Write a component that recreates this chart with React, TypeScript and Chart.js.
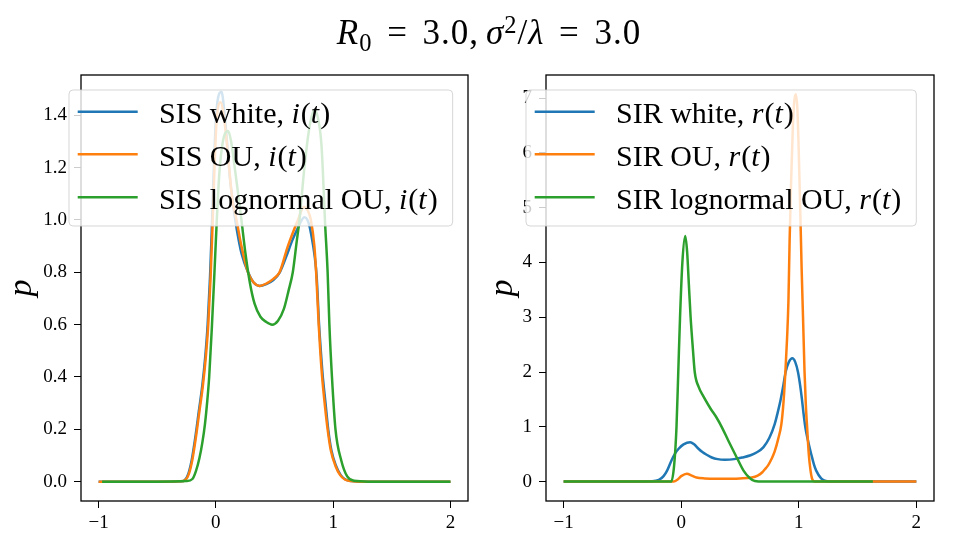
import React, { useEffect, useRef } from "react";
import { Chart, registerables } from "chart.js";

Chart.register(...registerables);

// ---------- data ----------
const xTicks = [-1, 0, 1, 2];
const sisYTicks = [0, 0.2, 0.4, 0.6, 0.8, 1.0, 1.2, 1.4];
const sirYTicks = [0, 1, 2, 3, 4, 5, 6, 7];

const sisLabels = ["SIS white, i(t)", "SIS OU, i(t)", "SIS lognormal OU, i(t)"];
const sirLabels = ["SIR white, r(t)", "SIR OU, r(t)", "SIR lognormal OU, r(t)"];

const sisWhiteX = [-1, -0.5, -0.3, -0.265, -0.235, -0.205, -0.175, -0.145, -0.115, -0.09, -0.07, -0.05, -0.035, -0.02, 0.0, 0.02, 0.048, 0.075, 0.1, 0.12, 0.15, 0.18, 0.22, 0.275, 0.32, 0.373, 0.43, 0.49, 0.545, 0.6, 0.65, 0.7, 0.755, 0.79, 0.815, 0.843, 0.86, 0.88, 0.895, 0.91, 0.935, 0.958, 0.985, 1.025, 1.065, 1.105, 1.16, 1.26, 2];
const sisWhiteY = [0, 0, 0.001, 0.006, 0.03, 0.085, 0.17, 0.27, 0.37, 0.48, 0.6, 0.78, 0.96, 1.16, 1.38, 1.47, 1.49, 1.4, 1.27, 1.16, 1.05, 0.96, 0.87, 0.8, 0.762, 0.748, 0.755, 0.77, 0.8, 0.86, 0.92, 0.97, 1.01, 0.99, 0.94, 0.86, 0.78, 0.6, 0.5, 0.41, 0.3, 0.2, 0.12, 0.06, 0.025, 0.008, 0.002, 0, 0];

const sisOuX = [-1, -0.5, -0.3, -0.26, -0.23, -0.2, -0.17, -0.14, -0.11, -0.085, -0.065, -0.045, -0.03, -0.015, 0.005, 0.04, 0.075, 0.113, 0.14, 0.176, 0.218, 0.274, 0.32, 0.373, 0.43, 0.49, 0.543, 0.614, 0.7, 0.75, 0.785, 0.81, 0.84, 0.855, 0.877, 0.89, 0.906, 0.93, 0.953, 0.98, 1.02, 1.06, 1.1, 1.15, 1.25, 2];
const sisOuY = [0, 0, 0.001, 0.006, 0.03, 0.085, 0.17, 0.27, 0.37, 0.48, 0.6, 0.78, 0.96, 1.16, 1.37, 1.45, 1.37, 1.2, 1.08, 1.0, 0.9, 0.8, 0.762, 0.748, 0.757, 0.775, 0.8, 0.9, 1.0, 1.05, 1.035, 1.0, 0.9, 0.8, 0.6, 0.5, 0.4, 0.29, 0.2, 0.12, 0.06, 0.025, 0.008, 0.002, 0, 0];

const sisLogX = [-0.97, -0.5, -0.25, -0.2, -0.17, -0.14, -0.115, -0.093, -0.075, -0.057, -0.033, -0.012, 0.008, 0.03, 0.06, 0.105, 0.13, 0.161, 0.19, 0.218, 0.25, 0.29, 0.33, 0.38, 0.43, 0.48, 0.53, 0.58, 0.62, 0.656, 0.69, 0.713, 0.755, 0.8, 0.84, 0.875, 0.9, 0.911, 0.93, 0.953, 0.968, 0.99, 1.02, 1.07, 1.12, 1.18, 1.3, 2];
const sisLogY = [0, 0, 0.002, 0.01, 0.04, 0.09, 0.15, 0.22, 0.3, 0.4, 0.6, 0.8, 1.0, 1.18, 1.3, 1.34, 1.3, 1.2, 1.1, 1.0, 0.88, 0.76, 0.68, 0.63, 0.61, 0.6, 0.615, 0.66, 0.73, 0.8, 0.92, 1.0, 1.2, 1.36, 1.42, 1.38, 1.29, 1.2, 1.0, 0.8, 0.6, 0.4, 0.2, 0.08, 0.02, 0.003, 0, 0];

const sirWhiteX = [-1, -0.4, -0.25, -0.19, -0.15, -0.12, -0.08, -0.05, -0.022, 0.02, 0.076, 0.11, 0.147, 0.18, 0.217, 0.26, 0.31, 0.37, 0.45, 0.52, 0.59, 0.64, 0.7, 0.75, 0.795, 0.825, 0.846, 0.868, 0.888, 0.915, 0.945, 0.97, 0.993, 1.01, 1.027, 1.04, 1.055, 1.08, 1.106, 1.128, 1.148, 1.19, 1.23, 1.3, 2];
const sirWhiteY = [0, 0, 0.005, 0.03, 0.1, 0.2, 0.4, 0.52, 0.6, 0.68, 0.72, 0.68, 0.6, 0.54, 0.49, 0.44, 0.41, 0.4, 0.41, 0.44, 0.48, 0.53, 0.63, 0.8, 1.05, 1.3, 1.5, 1.75, 2.0, 2.18, 2.25, 2.18, 2.0, 1.78, 1.5, 1.25, 1.0, 0.73, 0.5, 0.32, 0.2, 0.06, 0.01, 0, 0];

const sirOuX = [-1, -0.2, -0.064, -0.03, 0.0, 0.048, 0.09, 0.13, 0.2, 0.3, 0.4, 0.5, 0.6, 0.65, 0.69, 0.71, 0.74, 0.77, 0.795, 0.825, 0.852, 0.87, 0.886, 0.9, 0.912, 0.922, 0.935, 0.95, 0.962, 0.975, 0.988, 1.0, 1.012, 1.024, 1.036, 1.049, 1.06, 1.072, 1.085, 1.1, 1.112, 1.125, 1.15, 2];
const sirOuY = [0, 0, 0.002, 0.04, 0.1, 0.145, 0.11, 0.075, 0.058, 0.052, 0.053, 0.058, 0.075, 0.11, 0.17, 0.22, 0.3, 0.42, 0.55, 0.78, 1.05, 1.45, 2.0, 2.6, 3.3, 4.4, 5.5, 6.5, 6.95, 7.07, 6.8, 6.0, 5.0, 3.9, 3.0, 2.0, 1.4, 0.95, 0.5, 0.2, 0.06, 0.01, 0, 0];

const sirLogX = [-1, -0.2, -0.085, -0.06, -0.04, -0.025, -0.01, 0.01, 0.034, 0.05, 0.065, 0.08, 0.1, 0.115, 0.15, 0.19, 0.25, 0.3, 0.344, 0.4, 0.47, 0.53, 0.58, 0.626, 0.7, 1.63];
const sirLogY = [0, 0, 0, 0.3, 1.0, 2.0, 3.0, 4.0, 4.48, 4.2, 3.6, 3.0, 2.4, 2.0, 1.72, 1.55, 1.33, 1.17, 1.0, 0.75, 0.45, 0.2, 0.07, 0.01, 0, 0];

const COLORS = ["#1f77b4", "#ff7f0e", "#2ca02c"];
const SERIF = '"Liberation Serif", "Times New Roman", serif';

// ---------- helpers ----------
function pts(xs: number[], ys: number[]) {
  return xs.map((x, i) => ({ x, y: ys[i] }));
}

function fmtX(v: number) {
  return v < 0 ? "\u2212" + Math.abs(v) : String(v);
}

function splitLabel(label: string) {
  const idx = label.lastIndexOf(", ");
  return { prefix: label.slice(0, idx + 2), math: label.slice(idx + 2) };
}

function drawRich(ctx: CanvasRenderingContext2D, label: string, x: number, y: number, size: number, draw: boolean) {
  const { prefix, math } = splitLabel(label);
  let cx = x;
  ctx.font = `${size}px ${SERIF}`;
  if (draw) ctx.fillText(prefix, cx, y);
  cx += ctx.measureText(prefix).width;
  for (const ch of math) {
    const it = /[a-z]/.test(ch);
    ctx.font = `${it ? "italic " : ""}${size}px ${SERIF}`;
    if (draw) ctx.fillText(ch, cx, y);
    cx += ctx.measureText(ch).width + (it ? 1 : 0);
  }
  return cx - x;
}

const framePlugin = {
  id: "frame",
  afterDatasetsDraw(chart: any) {
    const { ctx, chartArea: a } = chart;
    ctx.save();
    ctx.strokeStyle = "#000";
    ctx.lineWidth = 1.3;
    ctx.strokeRect(a.left, a.top, a.right - a.left, a.bottom - a.top);
    ctx.restore();
  },
};

function makeLegendPlugin(labels: string[], offsetX: number) {
  return {
    id: "innerLegend",
    afterDraw(chart: any) {
      const { ctx, chartArea: a } = chart;
      const size = 30;
      const left = a.left + offsetX;
      const top = a.top + 15;
      const textX = left + 90;
      ctx.save();
      let maxW = 0;
      labels.forEach((l) => {
        maxW = Math.max(maxW, drawRich(ctx, l, 0, 0, size, false));
      });
      const w = 90 + maxW + 15;
      const h = 136;
      const r = 4;
      ctx.beginPath();
      ctx.moveTo(left + r, top);
      ctx.lineTo(left + w - r, top);
      ctx.arcTo(left + w, top, left + w, top + r, r);
      ctx.lineTo(left + w, top + h - r);
      ctx.arcTo(left + w, top + h, left + w - r, top + h, r);
      ctx.lineTo(left + r, top + h);
      ctx.arcTo(left, top + h, left, top + h - r, r);
      ctx.lineTo(left, top + r);
      ctx.arcTo(left, top, left + r, top, r);
      ctx.closePath();
      ctx.fillStyle = "rgba(255,255,255,0.8)";
      ctx.fill();
      ctx.strokeStyle = "rgba(204,204,204,0.8)";
      ctx.lineWidth = 1;
      ctx.stroke();
      const rows = [21.7, 64.3, 107.3];
      labels.forEach((l, i) => {
        const ly = top + rows[i];
        ctx.strokeStyle = COLORS[i];
        ctx.lineWidth = 2.5;
        ctx.beginPath();
        ctx.moveTo(left + 8.7, ly);
        ctx.lineTo(left + 68.7, ly);
        ctx.stroke();
        ctx.fillStyle = "#000";
        ctx.textBaseline = "alphabetic";
        ctx.textAlign = "left";
        drawRich(ctx, l, textX, ly + 11.5, size, true);
      });
      ctx.restore();
    },
  };
}

interface PanelProps {
  series: { x: number[]; y: number[] }[];
  labels: string[];
  yMin: number;
  yMax: number;
  yTicks: number[];
  yFmt: (v: number) => string;
  axisWidth: number;
  padRight: number;
  legendOffset: number;
}

function Panel(props: PanelProps) {
  const ref = useRef<HTMLCanvasElement>(null);
  useEffect(() => {
    if (!ref.current) return;
    const tickFont = { family: SERIF, size: 19 };
    const chart = new Chart(ref.current, {
      type: "line",
      data: {
        datasets: props.series.map((s, i) => ({
          label: props.labels[i],
          data: pts(s.x, s.y),
          borderColor: COLORS[i],
          backgroundColor: COLORS[i],
          borderWidth: 2.5,
          pointRadius: 0,
          cubicInterpolationMode: "monotone",
          fill: false,
          order: 3 - i,
        })),
      },
      options: {
        animation: false,
        responsive: false,
        events: [],
        layout: { padding: { left: 0, right: props.padRight, top: 75, bottom: 0 } },
        plugins: {
          legend: { display: false },
          tooltip: { enabled: false },
          title: { display: false },
        },
        scales: {
          x: {
            type: "linear",
            min: -1.15,
            max: 2.15,
            afterBuildTicks: (s: any) => {
              s.ticks = xTicks.map((v) => ({ value: v }));
            },
            afterFit: (s: any) => {
              s.height = 49;
            },
            grid: { drawOnChartArea: false, drawTicks: true, tickLength: 7, color: "#000", lineWidth: 1 },
            border: { display: false },
            ticks: {
              font: tickFont,
              color: "#000",
              padding: 4,
              maxRotation: 0,
              autoSkip: false,
              callback: (v: any) => fmtX(Number(v)),
            },
          },
          y: {
            type: "linear",
            min: props.yMin,
            max: props.yMax,
            afterBuildTicks: (s: any) => {
              s.ticks = props.yTicks.map((v) => ({ value: v }));
            },
            afterFit: (s: any) => {
              s.width = props.axisWidth;
            },
            grid: { drawOnChartArea: false, drawTicks: true, tickLength: 7, color: "#000", lineWidth: 1 },
            border: { display: false },
            ticks: {
              font: tickFont,
              color: "#000",
              padding: 7,
              autoSkip: false,
              callback: (v: any) => props.yFmt(Number(v)),
            },
            title: {
              display: true,
              text: "p",
              color: "#000",
              font: { family: SERIF, style: "italic", size: 34 },
              padding: { top: 2, bottom: 0 },
            },
          },
        },
      } as any,
      plugins: [framePlugin, makeLegendPlugin(props.labels, props.legendOffset)],
    });
    return () => chart.destroy();
  }, []);
  return <canvas ref={ref} width={481} height={550} style={{ display: "block", width: 481, height: 550 }} />;
}

export default function App() {
  const mathStyle: React.CSSProperties = { fontStyle: "italic" };
  const sub: React.CSSProperties = { fontSize: "70%", position: "relative", top: "0.3em" };
  const sup: React.CSSProperties = { fontSize: "70%", position: "relative", top: "-0.45em" };
  const rel: React.CSSProperties = { margin: "0 0.42em" };
  return (
    <div style={{ position: "absolute", left: 0, top: 0, width: 962, height: 550, background: "#fff", overflow: "hidden" }}>
      <div style={{ position: "absolute", left: 0, top: 0, display: "flex" }}>
        <Panel
          series={[
            { x: sisWhiteX, y: sisWhiteY },
            { x: sisOuX, y: sisOuY },
            { x: sisLogX, y: sisLogY },
          ]}
          labels={sisLabels}
          yMin={-0.074}
          yMax={1.554}
          yTicks={sisYTicks}
          yFmt={(v) => v.toFixed(1)}
          axisWidth={81}
          padRight={13}
          legendOffset={-12}
        />
        <Panel
          series={[
            { x: sirWhiteX, y: sirWhiteY },
            { x: sirOuX, y: sirOuY },
            { x: sirLogX, y: sirLogY },
          ]}
          labels={sirLabels}
          yMin={-0.354}
          yMax={7.42}
          yTicks={sirYTicks}
          yFmt={(v) => String(Math.round(v))}
          axisWidth={65}
          padRight={28}
          legendOffset={-20}
        />
      </div>
      <div
        style={{
          position: "absolute",
          left: 0,
          top: 12,
          width: 978,
          textAlign: "center",
          fontFamily: SERIF,
          fontSize: 35,
          lineHeight: "42px",
          letterSpacing: "1px",
          whiteSpace: "nowrap",
          color: "#000",
        }}
      >
        <span style={mathStyle}>R</span>
        <span style={sub}>0</span>
        <span style={rel}>=</span>3.0,{"\u2006"}
        <span style={mathStyle}>σ</span>
        <span style={sup}>2</span>/<span style={mathStyle}>λ</span>
        <span style={rel}>=</span>3.0
      </div>
    </div>
  );
}
